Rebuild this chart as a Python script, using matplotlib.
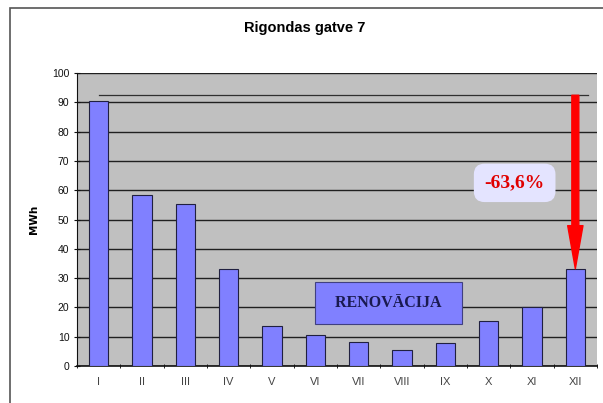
import matplotlib.pyplot as plt
from matplotlib.patches import Rectangle

# Dati
months = ["I", "II", "III", "IV", "V", "VI", "VII", "VIII", "IX", "X", "XI", "XII"]
mwh = [90.5, 58.5, 55.3, 33.0, 13.7, 10.5, 8.3, 5.6, 7.8, 15.3, 20.0, 33.2]
ref_level = 92.4
drop_label = "-63,6%"
renov_label = "RENOVĀCIJA"

fig = plt.figure(figsize=(6.03, 4.03), dpi=100)
fig.patch.set_facecolor("white")

# ramis ap diagrammu
fig.patches.append(Rectangle((10 / 603, -0.01), 1.0, 1 - 8 / 403 + 0.01,
                             transform=fig.transFigure, fill=False,
                             edgecolor="#555555", linewidth=1.2))

ax = fig.add_axes([77 / 603, 37 / 403, 520 / 603, 293 / 403])
ax.set_facecolor("#C0C0C0")

x = list(range(len(months)))
ax.bar(x, mwh, width=0.45, color="#8080FF", edgecolor="#202040", linewidth=0.8, zorder=3)

ax.set_xlim(-0.5, 11.5)
ax.set_ylim(0, 100)
ax.set_yticks(range(0, 101, 10))
ax.yaxis.grid(True, color="#202020", linewidth=1.0, zorder=1)
ax.set_axisbelow(True)

ax.set_xticks(x)
ax.set_xticklabels(months, fontsize=8, color="#444444", family="Liberation Sans")
ax.set_xticks([i + 0.5 for i in range(-1, 12)], minor=True)
ax.tick_params(axis="x", which="major", length=0, pad=8)
ax.tick_params(axis="x", which="minor", length=3, direction="inout")
ax.tick_params(axis="y", length=4, direction="inout", labelsize=7.5, colors="#111111")
for lab in ax.get_yticklabels():
    lab.set_family("Liberation Sans")

for s in ["top", "right"]:
    ax.spines[s].set_visible(False)
ax.spines["left"].set_color("#111111")
ax.spines["bottom"].set_color("#111111")
ax.spines["bottom"].set_linewidth(1.2)

ax.set_ylabel("MWh", fontsize=7.5, fontweight="bold", labelpad=9)

# references linija un bulta
ax.plot([0, 11.3], [ref_level, ref_level], color="#303030", linewidth=0.9, zorder=2)
ax.annotate("", xy=(11, mwh[11]), xytext=(11, ref_level),
            arrowprops=dict(width=5, headwidth=11, headlength=31, color="#FF0000", shrink=0),
            zorder=5)

ax.text(9.6, 62.5, drop_label, color="#E00000", fontsize=14, fontweight="bold",
        family="Liberation Serif", ha="center", va="center", zorder=6,
        bbox=dict(boxstyle="round,pad=0.55", facecolor="#E4E4FF", edgecolor="none"))

ax.text(6.68, 21.5, "  " + renov_label + "  ", color="#1A1A50", fontsize=11.5,
        fontweight="bold", family="Liberation Serif", ha="center", va="center", zorder=6,
        bbox=dict(boxstyle="square,pad=0.8", facecolor="#8080FF", edgecolor="#404080",
                  linewidth=0.8))

fig.text(305 / 603, 1 - 28 / 403, "Rigondas gatve 7", fontsize=10.5, fontweight="bold",
         ha="center", va="center", family="Liberation Sans")

fig.savefig("out.png", dpi=100)
